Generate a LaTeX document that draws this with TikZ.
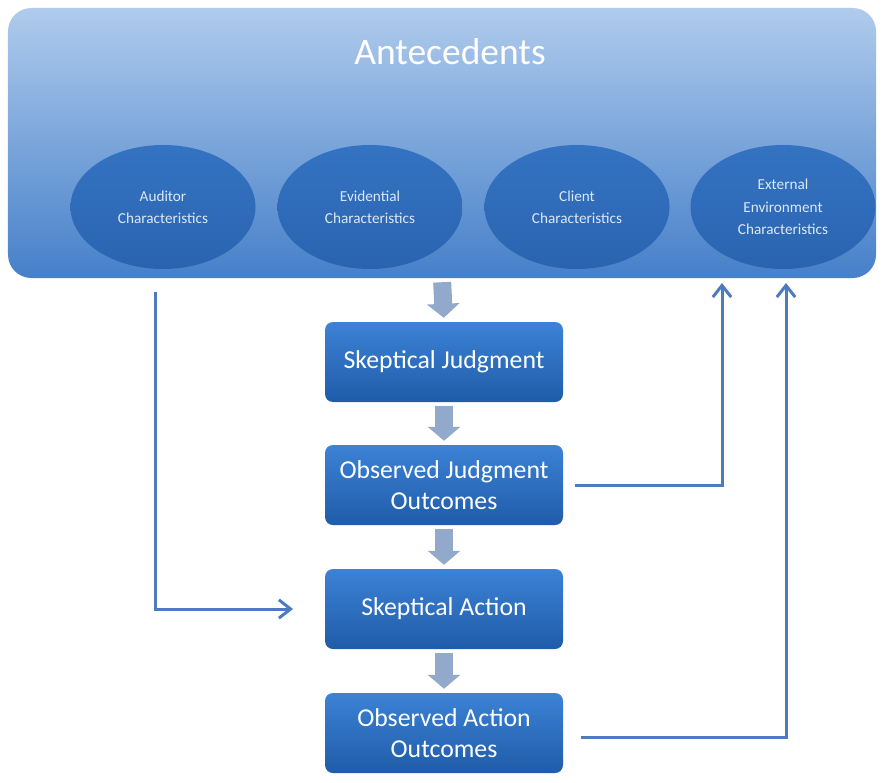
\documentclass[tikz,border=0pt]{standalone}
\usepackage{fontspec}
\setmainfont{Carlito}
\usetikzlibrary{arrows.meta,shapes.geometric}

\definecolor{paneltop}{HTML}{B0CBEC}
\definecolor{panelbot}{HTML}{4680C9}
\definecolor{ovaltop}{HTML}{3473C2}
\definecolor{ovalbot}{HTML}{2A64B0}
\definecolor{stagetop}{HTML}{3C82D6}
\definecolor{stagebot}{HTML}{1F5CA8}
\definecolor{flowgray}{HTML}{93A9CC}
\definecolor{linkblue}{HTML}{4C7CBD}
\definecolor{ovaltext}{HTML}{DCE8F7}

\begin{document}
\begin{tikzpicture}[x=0.3mm,y=-0.3mm,
    panel/.style={rounded corners=7mm, minimum width=260.4mm, minimum height=81mm,
        top color=paneltop, bottom color=panelbot, draw=none},
    factor/.style={ellipse, minimum width=55.5mm, minimum height=37.2mm,
        top color=ovaltop, bottom color=ovalbot, text=ovaltext, align=center,
        font=\fontsize{13pt}{19pt}\selectfont},
    stage/.style={rounded corners=2.4mm, minimum width=71.4mm, minimum height=24mm,
        top color=stagetop, bottom color=stagebot, text=white, align=center,
        font=\fontsize{22pt}{26pt}\selectfont},
    flow/.style={draw=flowgray, line width=5.4mm, shorten <=1.2mm, shorten >=1.2mm,
        -{Triangle[length=4.2mm,width=9.6mm]}},
    link/.style={draw=linkblue, line width=0.9mm, -{Straight Barb[length=3.5mm,width=5.5mm]}}]

    \useasboundingbox (0,0) rectangle (883,783);

    % Antecedents panel and its four groups
    \node[panel] (ante) at (442,143) {};
    \node[text=white, font=\fontsize{32pt}{36pt}\selectfont] (antetitle) at (450,52) {Antecedents};

    \node[factor] (aud) at (163,207) {Auditor\\Characteristics};
    \node[factor] (evi) at (370,207) {Evidential\\Characteristics};
    \node[factor] (cli) at (577,207) {Client\\Characteristics};
    \node[factor] (env) at (783,207) {External\\Environment\\Characteristics};

    % Stages of the model
    \node[stage] (sj)  at (444,362) {Skeptical Judgment};
    \node[stage] (ojo) at (444,485) {Observed Judgment\\Outcomes};
    \node[stage] (sa)  at (444,609) {Skeptical Action};
    \node[stage] (oao) at (444,733) {Observed Action\\Outcomes};

    % Block arrows between the stages
    \draw[flow] (ante.south) -- (sj.north);
    \draw[flow] (sj.south) -- (ojo.north);
    \draw[flow] (ojo.south) -- (sa.north);
    \draw[flow] (sa.south) -- (oao.north);

    % Free ends of the feedback lines
    \coordinate (audout) at (155,292);
    \coordinate (satip) at (293,609);
    \coordinate (envin) at (722,283);
    \coordinate (envin2) at (786,283);

    % Feedback lines
    \draw[link] (audout) |- (satip);
    \draw[link] ([xshift=3.6mm]ojo.east) -| (envin);
    \draw[link] ([xshift=5.4mm,yshift=-1.2mm]oao.east) -| (envin2);

\end{tikzpicture}
\end{document}
